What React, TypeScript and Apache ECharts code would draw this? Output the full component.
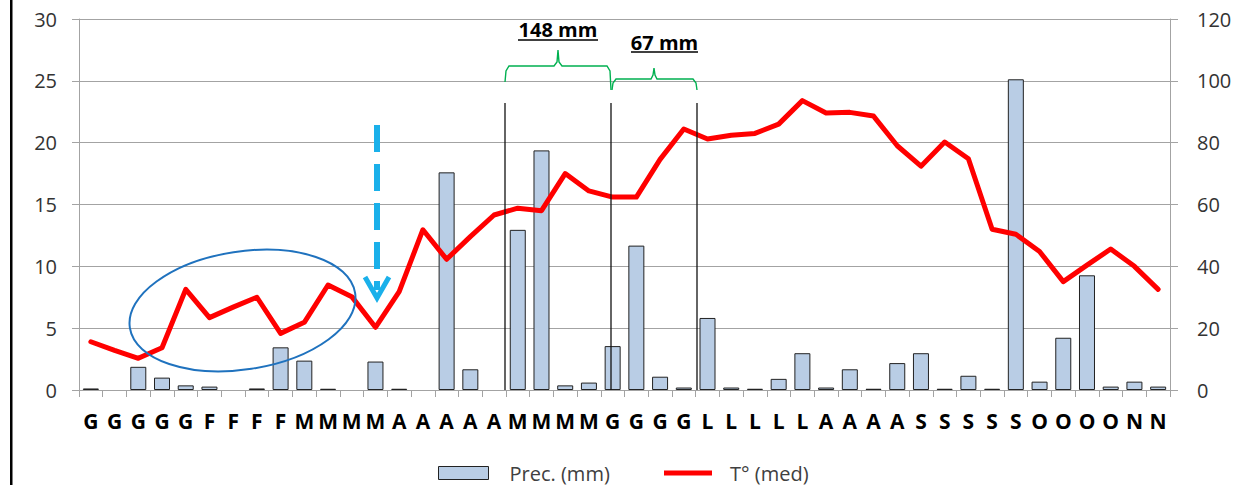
import React, { useEffect, useRef } from "react";
import * as echarts from "echarts";

const categories = ["G","G","G","G","G","F","F","F","F","M","M","M","M","A","A","A","A","A","M","M","M","M","G","G","G","G","L","L","L","L","L","A","A","A","A","S","S","S","S","S","O","O","O","O","N","N"];

const precMm = [0.5,0,7.5,4.0,1.5,1.1,0,0.5,13.8,9.5,0.4,0,9.2,0.4,0,70.4,6.7,0,51.8,77.5,1.5,2.4,14.2,46.7,4.3,0.8,23.3,0.8,0.4,3.6,11.9,0.8,6.7,0.4,8.7,11.9,0.4,4.6,0.4,100.5,2.7,16.9,37.1,1.1,2.7,1.1];

const tempMed = [3.9,3.2,2.56,3.42,8.14,5.85,6.7,7.5,4.58,5.47,8.49,7.55,5.07,7.95,12.96,10.57,12.4,14.15,14.7,14.5,17.5,16.1,15.6,15.6,18.65,21.1,20.3,20.6,20.75,21.5,23.4,22.4,22.45,22.15,19.75,18.1,20.05,18.7,13.0,12.6,11.2,8.76,10.1,11.4,10.0,8.14];

const leftTicks = { min: 0, max: 30, interval: 5 };
const rightTicks = { min: 0, max: 120, interval: 20 };

const FONT = '"Open Sans", "Liberation Sans", sans-serif';
const GRAY = "#A3A3A3";
const GREEN = "#00B050";

export default function App() {
  const ref = useRef<HTMLDivElement>(null);
  useEffect(() => {
    if (!ref.current) return;
    const chart = echarts.init(ref.current, null, { renderer: "svg" });
    const bracePts1 = [[505,82],[506,71],[509,66],[554,66],[557,62],[558,50],[559,62],[562,66],[607,66],[610,71],[611,90]];
    const bracePts2 = [[612,90],[613,83],[616,79],[651,79],[653,75],[654,68],[655,75],[657,79],[693,79],[696,83],[697,90]];
    chart.setOption({
      animation: false,
      backgroundColor: "#ffffff",
      grid: { left: 79, right: 69, top: 19, bottom: 95, containLabel: false },
      legend: [
        {
          data: [{ name: "Prec. (mm)", icon: "rect" }],
          left: 438, top: 463, padding: 0,
          itemWidth: 50, itemHeight: 13,
          itemStyle: { color: "#B9CDE5", borderColor: "#222", borderWidth: 1 },
          textStyle: { fontFamily: FONT, fontSize: 20, color: "#404040", padding: [6, 0, 0, 16] },
          selectedMode: false,
        },
        {
          data: [{ name: "T° (med)", icon: "rect" }],
          left: 664, top: 463, padding: 0,
          itemWidth: 48, itemHeight: 5,
          itemStyle: { color: "#FF0000", borderWidth: 0 },
          textStyle: { fontFamily: FONT, fontSize: 20, color: "#404040", padding: [6, 0, 0, 13] },
          selectedMode: false,
        },
      ],
      xAxis: {
        type: "category",
        data: categories,
        axisLine: { lineStyle: { color: GRAY, width: 1 } },
        axisTick: { show: true, length: 7, lineStyle: { color: GRAY } },
        axisLabel: { interval: 0, margin: 20, fontFamily: FONT, fontSize: 21, fontWeight: "bold", color: "#000" },
        splitLine: { show: false },
      },
      yAxis: [
        {
          type: "value", ...leftTicks,
          axisLine: { show: true, lineStyle: { color: GRAY } },
          axisTick: { show: true, length: 7, lineStyle: { color: GRAY } },
          axisLabel: { margin: 22, fontFamily: FONT, fontSize: 20, color: "#333" },
          splitLine: { show: true, lineStyle: { color: GRAY, width: 1 } },
        },
        {
          type: "value", ...rightTicks,
          position: "right",
          axisLine: { show: true, lineStyle: { color: GRAY } },
          axisTick: { show: true, length: 8, lineStyle: { color: GRAY } },
          axisLabel: { margin: 27, fontFamily: FONT, fontSize: 20, color: "#333" },
          splitLine: { show: false },
        },
      ],
      series: [
        {
          name: "Prec. (mm)",
          type: "bar",
          yAxisIndex: 1,
          data: precMm.map((v) => (v === 0 ? null : v)),
          barWidth: 16,
          itemStyle: { color: "#B9CDE5", borderColor: "#222", borderWidth: 1 },
          z: 2,
        },
        {
          name: "T° (med)",
          type: "line",
          yAxisIndex: 0,
          data: tempMed,
          symbol: "none",
          lineStyle: { color: "#FF0000", width: 5, join: "round", cap: "round" },
          itemStyle: { color: "#FF0000" },
          z: 3,
        },
      ],
      graphic: [
        { type: "rect", shape: { x: 10, y: 0, width: 2.5, height: 485 }, style: { fill: "#000" }, z: 10 },
        { type: "line", shape: { x1: 505, y1: 103, x2: 505, y2: 390 }, style: { stroke: "#111", lineWidth: 1.3 }, z: 10 },
        { type: "line", shape: { x1: 611, y1: 103, x2: 611, y2: 390 }, style: { stroke: "#111", lineWidth: 1.3 }, z: 10 },
        { type: "line", shape: { x1: 697, y1: 103, x2: 697, y2: 390 }, style: { stroke: "#111", lineWidth: 1.3 }, z: 10 },
        { type: "polyline", shape: { points: bracePts1 }, style: { stroke: GREEN, lineWidth: 1.4, fill: "none" }, z: 10 },
        { type: "polyline", shape: { points: bracePts2 }, style: { stroke: GREEN, lineWidth: 1.4, fill: "none" }, z: 10 },
        { type: "text", x: 558, y: 29, style: { text: "148 mm", font: `bold 20px ${FONT}`, fill: "#000", align: "center", verticalAlign: "middle" }, z: 10 },
        { type: "line", shape: { x1: 518, y1: 40, x2: 598, y2: 40 }, style: { stroke: "#000", lineWidth: 1.5 }, z: 10 },
        { type: "text", x: 664.5, y: 42, style: { text: "67 mm", font: `bold 20px ${FONT}`, fill: "#000", align: "center", verticalAlign: "middle" }, z: 10 },
        { type: "line", shape: { x1: 631, y1: 52, x2: 698, y2: 52 }, style: { stroke: "#000", lineWidth: 1.5 }, z: 10 },
        { type: "line", shape: { x1: 377, y1: 125, x2: 377, y2: 290 }, style: { stroke: "#1AB0EA", lineWidth: 6, lineDash: [27, 12] }, z: 10 },
        { type: "polyline", shape: { points: [[365, 277], [377, 298], [389, 277]] }, style: { stroke: "#1AB0EA", lineWidth: 5, fill: "none" }, z: 10 },
        { type: "ellipse", x: 242.5, y: 310.5, rotation: 0.153, shape: { cx: 0, cy: 0, rx: 114, ry: 59 }, style: { fill: "none", stroke: "#1F72BE", lineWidth: 2 }, z: 10 },
      ],
    });
    return () => chart.dispose();
  }, []);
  return <div ref={ref} style={{ position: "fixed", left: 0, top: 0, width: 1239, height: 485, background: "#fff" }} />;
}
